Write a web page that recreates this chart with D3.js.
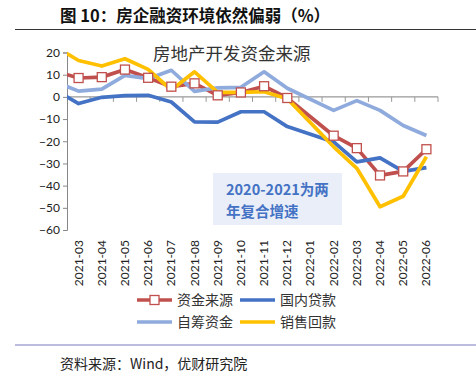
<!DOCTYPE html>
<meta charset="utf-8">
<style>
body { margin: 0; background: #fff; }
text { font-family: "Noto Sans CJK SC", sans-serif; }
.tick text { font-family: Lato, "Noto Sans", sans-serif; font-size: 12px; fill: #222; }
</style>
<svg width="476" height="381"></svg>
<script src="https://d3js.org/d3.v7.min.js"></script>
<script>

// months; 2021-02 sits half outside the plot and gets clipped, 2022-01 has no data
var months = ["2021-02","2021-03","2021-04","2021-05","2021-06","2021-07","2021-08","2021-09","2021-10",
              "2021-11","2021-12","2022-01","2022-02","2022-03","2022-04","2022-05","2022-06"];
var tickMonths = months.slice(1);

var fundSource = [11.5, 8.5, 8.9, 12.3, 8.6, 4.6, 6.1, 0.7, 2.0, 4.8, -0.5, null, -17.5, -23.1, -35.4, -33.6, -23.6];
var domesticLoan = [3.0, -3.0, -0.2, 0.6, 0.7, -2.3, -11.3, -11.4, -6.7, -6.7, -13.4, null, -20.3, -29.3, -27.5, -33.6, -31.9];
var selfRaised = [6.8, 2.6, 3.5, 9.7, 8.2, 12.0, 2.5, 4.1, 4.3, 11.3, 3.9, null, -6.1, -1.7, -6.1, -12.9, -17.4];
var salesReturn = [22.6, 16.4, 13.9, 17.2, 12.4, 3.1, 11.3, 2.0, 2.0, 2.3, -0.8, null, -22.5, -32.2, -49.5, -44.8, -27.0];

var yTicks = [20, 10, 0, -10, -20, -30, -40, -50, -60];

var series = [
  {name: "资金来源", values: fundSource, color: "#c0504d", marker: true},
  {name: "国内贷款", values: domesticLoan, color: "#4472c4"},
  {name: "自筹资金", values: selfRaised, color: "#8faadc"},
  {name: "销售回款", values: salesReturn, color: "#ffc000"}
];

var svg = d3.select("svg");

var plotLeft = 67, plotRight = 438, plotTop = 52.5, plotBottom = 230;

var x = d3.scaleLinear().domain([-0.5, tickMonths.length - 0.5]).range([plotLeft, plotRight]);
var y = d3.scaleLinear().domain([-60, 20]).range([plotBottom, plotTop]);

// title
svg.append("text")
    .attr("x", 60).attr("y", 22)
    .style("font-size", "16.5px").style("font-weight", 700).attr("fill", "#111")
    .text("图 10：房企融资环境依然偏弱（%）");
svg.append("line")
    .attr("x1", 15).attr("x2", 476).attr("y1", 29.5).attr("y2", 29.5)
    .attr("stroke", "#333").attr("stroke-width", 1);

// y axis
var yAxis = svg.append("g")
    .attr("transform", "translate(" + plotLeft + ",0)")
    .call(d3.axisLeft(y).tickValues(yTicks).tickSize(4).tickPadding(3));
yAxis.select(".domain").attr("stroke", "#888");
yAxis.selectAll(".tick line").attr("stroke", "#888");

// x axis at zero
var bounds = d3.range(0, tickMonths.length + 1).map(function(i) { return i - 0.5; });
var xAxis = svg.append("g")
    .attr("transform", "translate(0," + y(0) + ")");
xAxis.append("line")
    .attr("x1", plotLeft).attr("x2", plotRight).attr("stroke", "#999").attr("stroke-width", 1.2);
xAxis.selectAll(".xt").data(bounds.slice(1)).enter().append("line")
    .attr("x1", function(d) { return x(d); }).attr("x2", function(d) { return x(d); })
    .attr("y1", 0).attr("y2", 5).attr("stroke", "#999");

svg.append("g").selectAll("text").data(tickMonths).enter().append("text")
    .attr("transform", function(d, i) { return "translate(" + (x(i) + 4) + ",240) rotate(-90)"; })
    .attr("text-anchor", "end")
    .style("font-family", "Lato, 'Noto Sans', sans-serif").style("font-size", "12px").attr("fill", "#222")
    .text(function(d) { return d; });

// clip
svg.append("clipPath").attr("id", "plot")
  .append("rect").attr("x", plotLeft).attr("y", 0).attr("width", plotRight - plotLeft + 10).attr("height", 381);

var line = d3.line()
    .x(function(d) { return x(d.i); })
    .y(function(d) { return y(d.v); });

var plot = svg.append("g").attr("clip-path", "url(#plot)");

series.forEach(function(s) {
  var pts = s.values.map(function(v, k) { return {i: k - 1, v: v}; })
                    .filter(function(d) { return d.v !== null; });
  s.pts = pts;
  plot.append("path")
      .attr("d", line(pts))
      .attr("fill", "none")
      .attr("stroke", s.color)
      .attr("stroke-width", 3.7)
      .attr("stroke-linejoin", "round");
});

plot.selectAll(".mk").data(series[0].pts.filter(function(d) { return d.i >= 0; })).enter().append("rect")
    .attr("x", function(d) { return x(d.i) - 4.5; })
    .attr("y", function(d) { return y(d.v) - 4.5; })
    .attr("width", 9).attr("height", 9)
    .attr("fill", "#fff").attr("stroke", "#c0504d").attr("stroke-width", 1.3);

// chart title
svg.append("text")
    .attr("x", 153).attr("y", 60)
    .style("font-size", "17.5px").attr("fill", "#333")
    .text("房地产开发资金来源");

// annotation
svg.append("rect")
    .attr("x", 213).attr("y", 173).attr("width", 129).attr("height", 52)
    .attr("fill", "#e9eef8");
svg.append("text")
    .attr("x", 226).attr("y", 195)
    .style("font-size", "14.5px").style("font-weight", 700).attr("fill", "#4472c4")
    .text("2020-2021为两");
svg.append("text")
    .attr("x", 226).attr("y", 217)
    .style("font-size", "14.5px").style("font-weight", 700).attr("fill", "#4472c4")
    .text("年复合增速");

// legend
var legendPos = [[137, 300], [240, 300], [137, 322], [240, 322]];
series.forEach(function(s, k) {
  var g = svg.append("g").attr("transform", "translate(" + legendPos[k][0] + "," + legendPos[k][1] + ")");
  g.append("line").attr("x1", 0).attr("x2", 35).attr("stroke", s.color).attr("stroke-width", 3.7);
  if (s.marker) {
    g.append("rect").attr("x", 13).attr("y", -4.5).attr("width", 9).attr("height", 9)
      .attr("fill", "#fff").attr("stroke", s.color).attr("stroke-width", 1.3);
  }
  g.append("text").attr("x", 40).attr("y", 5)
    .style("font-size", "14px").attr("fill", "#333").text(s.name);
});

// footer
svg.append("line")
    .attr("x1", 15).attr("x2", 476).attr("y1", 345).attr("y2", 345)
    .attr("stroke", "#7b7bbf").attr("stroke-width", 1.2);
svg.append("text")
    .attr("x", 60).attr("y", 369)
    .style("font-size", "14px").attr("fill", "#222")
    .text("资料来源：Wind，优财研究院");

</script>
